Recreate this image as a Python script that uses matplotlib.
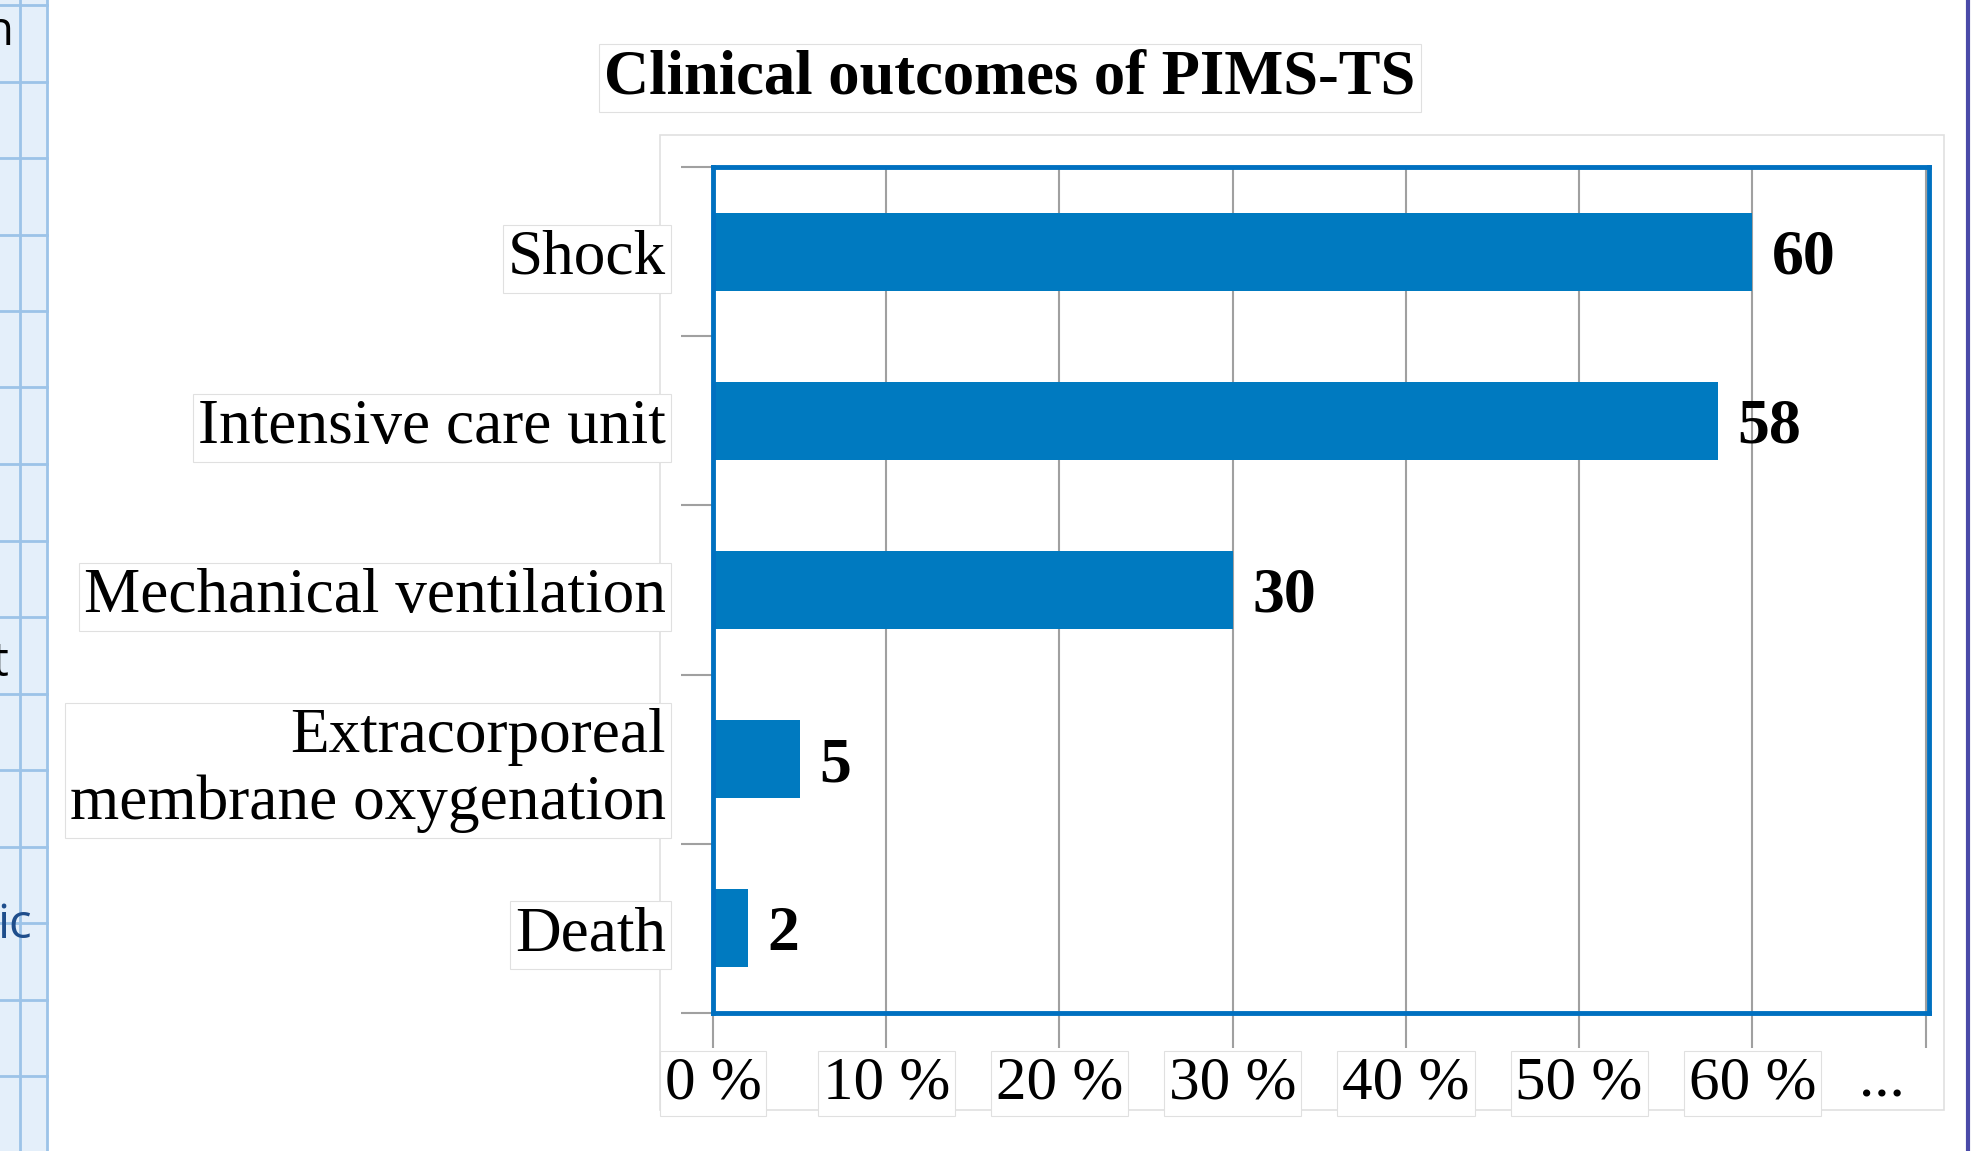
import matplotlib
matplotlib.use("Agg")
import matplotlib.pyplot as plt
from matplotlib.patches import Rectangle
import matplotlib.transforms as mtransforms
import numpy as np

categories = ["Shock", "Intensive care unit", "Mechanical ventilation",
              "Extracorporeal\nmembrane oxygenation", "Death"]
values = [60, 58, 30, 5, 2]
tick_values = [0, 10, 20, 30, 40, 50, 60, 70]
tick_labels = ["0 %", "10 %", "20 %", "30 %", "40 %", "50 %", "60 %", ""]
title = "Clinical outcomes of PIMS-TS"

W, H = 1979, 1151
fig = plt.figure(figsize=(W / 100, H / 100), dpi=100)
fig.patch.set_facecolor("white")
SERIF = ["Liberation Serif", "DejaVu Serif"]

def fx(px):
    return px / W

def fy(py):
    return 1 - py / H

# left grid-paper strip
fig.patches.append(Rectangle((0, 0), fx(47), 1, transform=fig.transFigure,
                             facecolor="#E4EFFA", edgecolor="none", zorder=-3))
for yy in np.arange(5, H, 76.5):
    fig.add_artist(plt.Line2D([0, fx(47)], [fy(yy), fy(yy)], transform=fig.transFigure,
                              color="#9CC3E8", lw=2, zorder=-2))
for xx in [20, 47]:
    fig.add_artist(plt.Line2D([fx(xx), fx(xx)], [0, 1], transform=fig.transFigure,
                              color="#9CC3E8", lw=2, zorder=-2))
fig.text(fx(14), fy(32), "n", ha="right", va="center", fontsize=34,
         family=["Open Sans", "DejaVu Sans"], color="black")
fig.text(fx(8), fy(663), "t", ha="right", va="center", fontsize=34,
         family=["Open Sans", "DejaVu Sans"], color="black")
fig.text(fx(32), fy(925), "ic", ha="right", va="center", fontsize=34,
         family=["Open Sans", "DejaVu Sans"], color="#1F4E8C")

# right purple line
fig.add_artist(plt.Line2D([fx(1968), fx(1968)], [0, 1], transform=fig.transFigure,
                          color="#4A4AA8", lw=3, zorder=-2))

# faint panel outline
fig.patches.append(Rectangle((fx(660), fy(1110)), fx(1944) - fx(660), fy(135) - fy(1110),
                             transform=fig.transFigure, facecolor="white",
                             edgecolor="#E0E0E0", lw=1.2, zorder=-3))

ax = fig.add_axes([fx(713), fy(1013), fx(1929) - fx(713), fy(167) - fy(1013)])
ax.set_facecolor("white")
ypos = np.arange(len(categories))
ax.barh(ypos, values, height=0.46, color="#007AC0", zorder=3)
ax.set_xlim(0, 70.2)
ax.set_ylim(len(categories) - 0.5, -0.5)

ax.set_xticks(tick_values)
ax.set_xticklabels(tick_labels, family=SERIF, fontsize=44)
ax.tick_params(axis="x", length=25, width=1.5, color="#A0A0A0", pad=6)
ax.xaxis.grid(True, color="#A0A0A0", lw=1.5, zorder=1)
ax.set_axisbelow(True)

ax.set_yticks(np.arange(-0.5, len(categories), 1.0))
ax.set_yticklabels([])
ax.set_yticks(ypos, minor=True)
ax.set_yticklabels(categories, minor=True, family=SERIF, fontsize=45.5,
                   linespacing=1.2)
ax.tick_params(axis="y", which="major", length=23, width=1.5, color="#A0A0A0")
ax.tick_params(axis="y", which="minor", length=0, pad=34)

for sp in ax.spines.values():
    sp.set_color("#0070C0")
    sp.set_linewidth(3.5)
    sp.set_zorder(5)

for lab in ax.get_yticklabels(minor=True) + ax.get_xticklabels():
    lab.set_bbox(dict(boxstyle="square,pad=0.08", facecolor="white",
                      edgecolor="#E0E0E0", lw=0.8))

for y, v in zip(ypos, values):
    ax.annotate(str(v), (v, y), xytext=(14, 0), textcoords="offset points",
                ha="left", va="center_baseline", fontsize=46, fontweight="bold",
                family=SERIF, color="black", zorder=4)

dots = ax.text(0, 0, "...", fontsize=44, family=SERIF, ha="center", va="center",
               transform=mtransforms.blended_transform_factory(ax.transData, fig.transFigure),
               clip_on=False)
dots.set_position((67.5, fy(1082)))

fig.text(fx(1010), fy(78), title, ha="center", va="center", fontsize=45,
         fontweight="bold", family=SERIF,
         bbox=dict(boxstyle="square,pad=0.08", facecolor="white",
                   edgecolor="#E0E0E0", lw=0.8))

fig.savefig("out.png", dpi=100, facecolor="white")
